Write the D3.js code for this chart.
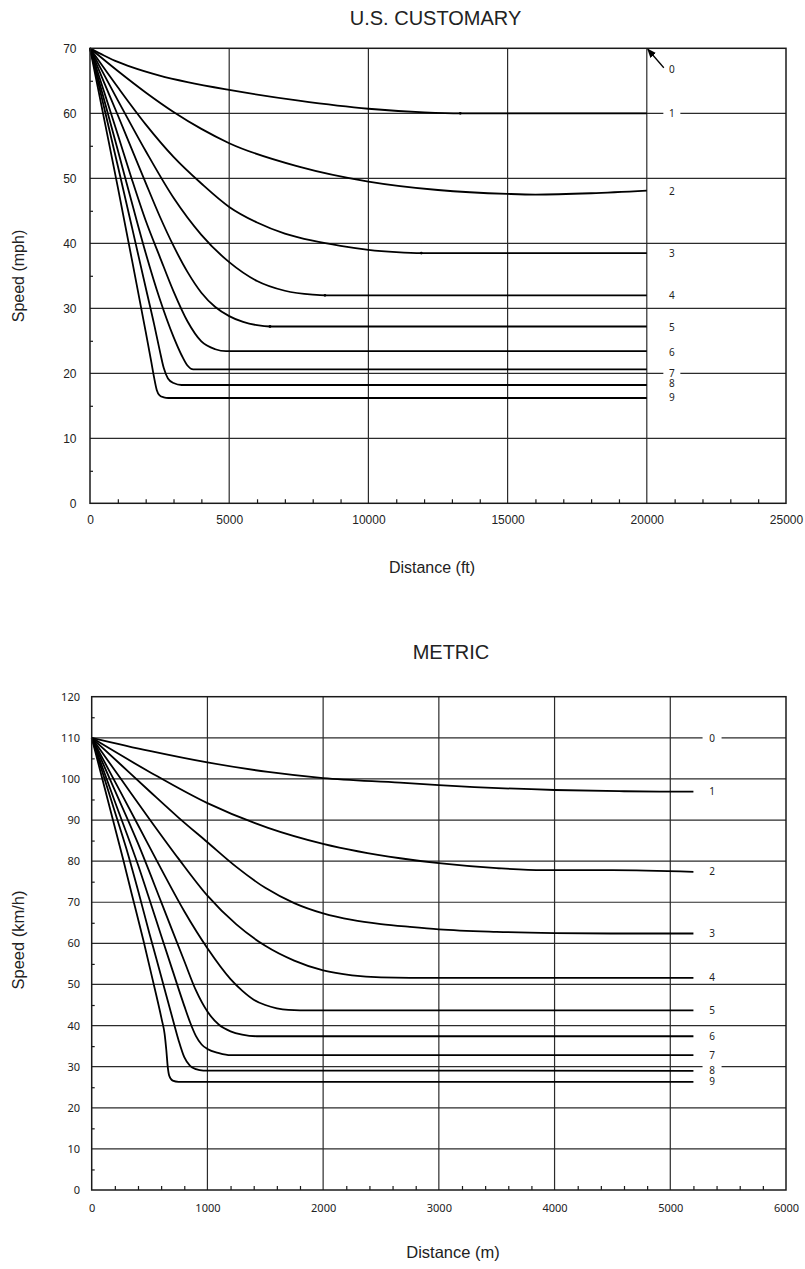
<!DOCTYPE html>
<html><head><meta charset="utf-8">
<script src="https://cdn.jsdelivr.net/npm/d3@7"></script>
<style>body{margin:0;background:#fff}</style>
</head><body><svg id="c" width="805" height="1269"></svg>
<script>
// ================= U.S. CUSTOMARY (distance ft, speed mph) =================
const usYMajor = [0,10,20,30,40,50,60,70];
const usYMinor = [5,15,25,35,45,55,65];
const usXMajor = [0,5000,10000,15000,20000,25000];
const usXMinor = [1000,2000,3000,4000,6000,7000,8000,9000,11000,12000,13000,14000,16000,17000,18000,19000,21000,22000,23000,24000];
const usGrade1 = [[0,70],[500,68.9],[1000,67.9],[1500,67.1],[2500,65.8],[3500,64.8],[5000,63.6],[7500,61.95],[10000,60.7],[12000,60.15],[13300,60],[20000,60]];
const usGrade2 = [[0,70],[1000,66.5],[2000,63.2],[3000,60.2],[4000,57.6],[5000,55.4],[7500,51.8],[10000,49.5],[12500,48.2],[15000,47.6],[16000,47.5],[18000,47.7],[20000,48.1]];
const usGrade3 = [[0,70],[1000,64.0],[2000,58.3],[3000,53.3],[4000,49.2],[5000,45.6],[6000,43.2],[7000,41.5],[8000,40.4],[9000,39.6],[10000,39.0],[11000,38.65],[11900,38.5],[20000,38.5]];
const usGrade4 = [[0,70],[1000,62.0],[2000,54.2],[3000,47.0],[4000,41.3],[5000,37.1],[6000,34.2],[7000,32.7],[8000,32.1],[8440,32],[20000,32]];
const usGrade5 = [[0,70],[500,64.8],[1000,59.7],[1500,54.5],[2000,49.3],[2500,44.2],[3000,39.6],[3500,35.6],[4000,32.4],[4500,30.2],[5000,28.8],[5500,27.9],[6000,27.4],[6465,27.2],[20000,27.2]];
const usGrade6 = [[0,70],[500,63.4],[1000,56.7],[1500,49.9],[2000,43.5],[2500,38.0],[3000,32.6],[3500,28.0],[4000,24.9],[4500,23.7],[4885,23.4],[20000,23.4]];
const usGrade7 = [[0,70],[500,62.2],[1000,54.3],[1500,46.3],[2000,38.5],[2500,31.5],[3000,25.6],[3300,22.7],[3500,21.2],[3710,20.6],[20000,20.6]];
const usGrade8 = [[0,70],[500,61],[1000,51.9],[1500,42.6],[2000,33.2],[2300,27.6],[2500,23.6],[2650,20.8],[2800,19.2],[3000,18.5],[3290,18.2],[20000,18.2]];
const usGrade9 = [[0,70],[500,59.3],[1000,48.6],[1500,37.6],[2000,26.4],[2200,21.8],[2300,19.4],[2400,17.4],[2500,16.6],[2650,16.3],[2813,16.2],[20000,16.2]];
const usDots = [[13300,60],[11900,38.5],[8440,32],[6465,27.2]];
const usCurveLabels = ["0","1","2","3","4","5","6","7","8","9"];
const usLabelSpeeds = [66.8,60,48,38.4,32,27.1,23.25,20,18.45,16.3];
const usLabelDist = 20900;
const usGapLabels = ["1","7"];

// ================= METRIC (distance m, speed km/h) =================
const mYMajor = [0,10,20,30,40,50,60,70,80,90,100,110,120];
const mYMinor = [5,15,25,35,45,55,65,75,85,95,105,115];
const mXMajor = [0,1000,2000,3000,4000,5000,6000];
const mXMinor = [200,400,600,800,1200,1400,1600,1800,2200,2400,2600,2800,3200,3400,3600,3800,4200,4400,4600,4800,5200,5400,5600,5800];
const mGrade1 = [[0,110],[500,106.8],[1000,104.0],[1524,101.7],[2000,100.2],[2665,99.1],[3000,98.5],[4000,97.3],[4600,97.0],[5200,96.9]];
const mGrade2 = [[0,110],[500,101.7],[1000,94.1],[1524,88.1],[2000,84.2],[2665,80.7],[3000,79.5],[3500,78.3],[3900,77.8],[4500,77.8],[5200,77.4]];
const mGrade3 = [[0,110],[250,103.5],[500,97.0],[750,90.6],[1000,84.6],[1250,78.6],[1500,73.5],[1750,69.8],[2000,67.3],[2250,65.7],[2500,64.7],[2750,64.0],[3000,63.4],[3500,62.8],[4000,62.5],[4500,62.4],[5200,62.4]];
const mGrade4 = [[0,110],[250,100.1],[500,90.2],[750,80.6],[1000,71.6],[1250,64.6],[1500,59.4],[1750,55.8],[2000,53.4],[2250,52.2],[2500,51.7],[2750,51.6],[5200,51.6]];
const mGrade5 = [[0,110],[200,99.4],[400,88.8],[600,78.1],[800,67.8],[1000,58.8],[1200,51.3],[1300,48.5],[1400,46.3],[1500,45.0],[1600,44.2],[1700,43.8],[1800,43.7],[5200,43.7]];
const mGrade6 = [[0,110],[200,97.2],[400,84.3],[600,70.1],[800,55.7],[900,48.6],[1000,43.4],[1100,40.2],[1200,38.6],[1300,37.8],[1426,37.4],[5200,37.4]];
const mGrade7 = [[0,110],[200,94.5],[400,79.1],[500,70.6],[600,61.9],[700,53.3],[800,44.8],[850,40.8],[900,37.5],[950,35.4],[1000,34.3],[1100,33.3],[1200,32.8],[5200,32.8]];
const mGrade8 = [[0,110],[100,101],[200,92],[300,83],[400,72.9],[500,62.3],[600,52.0],[700,41.6],[750,36.5],[800,32.3],[850,30.2],[900,29.4],[965,29.05],[5200,29.0]];
const mGrade9 = [[0,110],[271,80.5],[346,72],[446,60.8],[518,52.2],[605,41.5],[630,38],[645,34],[657,30],[670,27.8],[700,26.6],[750,26.3],[5200,26.3]];
const mCurveLabels = ["0","1","2","3","4","5","6","7","8","9"];
const mLabelSpeeds = [109.9,97.0,77.5,62.3,51.6,43.8,37.45,32.8,29.1,26.3];
const mLabelDist = 5361;
const mGapLabels = ["0","8"];

// ================= drawing =================
const svg = d3.select("#c");
svg.append("rect").attr("width",805).attr("height",1269).attr("fill","#fff");
const INK = "#1a1a1a";

function panel(p){
  const g = svg.append("g");
  const x = p.x, y = p.y;
  const [x0,x1] = x.range(), [yb,yt] = y.range();
  const [dx0,dx1] = x.domain(), [dy0,dy1] = y.domain();

  g.append("g").selectAll("line").data(p.yMajor.filter(v=>v>dy0&&v<dy1)).join("line")
    .attr("x1",x0).attr("x2",x1).attr("y1",d=>y(d)).attr("y2",d=>y(d))
    .attr("stroke","#2b2b2b").attr("stroke-width",1.2);
  g.append("g").selectAll("line").data(p.xMajor.filter(v=>v>dx0&&v<dx1)).join("line")
    .attr("y1",yb).attr("y2",yt).attr("x1",d=>x(d)).attr("x2",d=>x(d))
    .attr("stroke","#2b2b2b").attr("stroke-width",1.2);

  g.append("g").attr("transform",`translate(${x0},0)`)
    .call(d3.axisLeft(y).tickValues(p.yMinor).tickSize(-3).tickFormat(""))
    .call(a=>a.select(".domain").remove())
    .selectAll("line").attr("stroke",INK).attr("stroke-width",1.2);
  g.append("g").attr("transform",`translate(0,${yb})`)
    .call(d3.axisBottom(x).tickValues(p.xMinor).tickSize(-4).tickFormat(""))
    .call(a=>a.select(".domain").remove())
    .selectAll("line").attr("stroke",INK).attr("stroke-width",1.2);

  g.append("g").attr("transform",`translate(${x0},0)`)
    .call(d3.axisLeft(y).tickValues(p.yMajor).tickSize(0).tickPadding(p.padY).tickFormat(d3.format("d")))
    .call(a=>a.select(".domain").remove())
    .selectAll("text").attr("font-family",p.tickFont).attr("font-size",p.tickSize).attr("fill","#222");
  g.append("g").attr("transform",`translate(0,${yb})`)
    .call(d3.axisBottom(x).tickValues(p.xMajor).tickSize(0).tickPadding(p.padX).tickFormat(d3.format("d")))
    .call(a=>a.select(".domain").remove())
    .selectAll("text").attr("font-family",p.tickFont).attr("font-size",p.tickSize).attr("fill","#222");

  const line = d3.line().x(d=>x(d[0])).y(d=>y(d[1])).curve(d3.curveMonotoneX);
  g.append("g").selectAll("path").data(p.curves).join("path")
    .attr("d",line).attr("fill","none").attr("stroke","#000").attr("stroke-width",1.8);
  if(p.dots){
    g.append("g").selectAll("circle").data(p.dots).join("circle")
      .attr("cx",d=>x(d[0])).attr("cy",d=>y(d[1])).attr("r",1.4).attr("fill","#000");
  }

  g.append("rect").attr("x",x0).attr("y",yt).attr("width",x1-x0).attr("height",yb-yt)
    .attr("fill","none").attr("stroke",INK).attr("stroke-width",1.5);

  const lab = p.labels.map((t,i)=>({t, s:p.labelSpeeds[i]}));
  g.append("g").selectAll("rect").data(lab.filter(d=>p.gapLabels.includes(d.t))).join("rect")
    .attr("x",x(p.labelDist)-p.gapW/2).attr("y",d=>y(d.s)-5).attr("width",p.gapW).attr("height",10)
    .attr("fill","#fff");
  g.append("g").selectAll("text").data(lab).join("text")
    .attr("x",x(p.labelDist)).attr("y",d=>y(d.s)).attr("dy","0.36em")
    .attr("text-anchor","middle").attr("font-family","'Noto Sans', 'Open Sans', sans-serif")
    .attr("font-size",10).attr("fill","#222").text(d=>d.t);

  g.append("text").attr("x",p.titleX).attr("y",p.titleY).attr("text-anchor","middle")
    .attr("font-family","'Liberation Sans', Arial, sans-serif").attr("font-size",20).attr("fill","#222").text(p.title);
  g.append("text").attr("x",p.xTitleX).attr("y",p.xTitleY).attr("text-anchor","middle")
    .attr("font-family","'Liberation Sans', Arial, sans-serif").attr("font-size",p.axisTitleSize).attr("fill","#222").text(p.xTitle);
  g.append("text").attr("transform",`translate(${p.yTitleX},${p.yTitleY}) rotate(-90)`).attr("text-anchor","middle")
    .attr("font-family","'Liberation Sans', Arial, sans-serif").attr("font-size",p.axisTitleSize).attr("fill","#222").text(p.yTitle);
  return g;
}

const xUS = d3.scaleLinear().domain([0,25000]).range([90,786]);
const yUS = d3.scaleLinear().domain([0,70]).range([503.3,48.3]);
const gUS = panel({
  x:xUS, y:yUS, xMajor:usXMajor, xMinor:usXMinor, yMajor:usYMajor, yMinor:usYMinor,
  curves:[usGrade1,usGrade2,usGrade3,usGrade4,usGrade5,usGrade6,usGrade7,usGrade8,usGrade9],
  dots:usDots, labels:usCurveLabels, labelSpeeds:usLabelSpeeds, labelDist:usLabelDist,
  gapLabels:usGapLabels, gapW:17,
  tickFont:"'Liberation Sans', Arial, sans-serif", tickSize:12, padY:13.5, padX:12.5,
  title:"U.S. CUSTOMARY", titleX:435.5, titleY:25, axisTitleSize:16,
  xTitle:"Distance (ft)", xTitleX:432, xTitleY:573,
  yTitle:"Speed (mph)", yTitleX:24, yTitleY:276
});
svg.append("defs").append("marker").attr("id","ah").attr("viewBox","0 0 10 10")
  .attr("refX",9).attr("refY",5).attr("markerWidth",7).attr("markerHeight",7).attr("orient","auto")
  .append("path").attr("d","M0,1 L10,5 L0,9 Z").attr("fill","#000");
gUS.append("line").attr("x1",xUS(20000)+17).attr("y1",yUS(70)+19.5)
  .attr("x2",xUS(20000)+1).attr("y2",yUS(70)+1)
  .attr("stroke","#000").attr("stroke-width",1.3).attr("marker-end","url(#ah)");

const xM = d3.scaleLinear().domain([0,6000]).range([91.7,786]);
const yM = d3.scaleLinear().domain([0,120]).range([1190,696.7]);
panel({
  x:xM, y:yM, xMajor:mXMajor, xMinor:mXMinor, yMajor:mYMajor, yMinor:mYMinor,
  curves:[mGrade1,mGrade2,mGrade3,mGrade4,mGrade5,mGrade6,mGrade7,mGrade8,mGrade9],
  dots:null, labels:mCurveLabels, labelSpeeds:mLabelSpeeds, labelDist:mLabelDist,
  gapLabels:mGapLabels, gapW:19,
  tickFont:"'Noto Sans', 'Open Sans', sans-serif", tickSize:11, padY:11.7, padX:13.9,
  title:"METRIC", titleX:451, titleY:659, axisTitleSize:16.5,
  xTitle:"Distance (m)", xTitleX:453, xTitleY:1258,
  yTitle:"Speed (km/h)", yTitleX:24, yTitleY:940
});
</script></body></html>
